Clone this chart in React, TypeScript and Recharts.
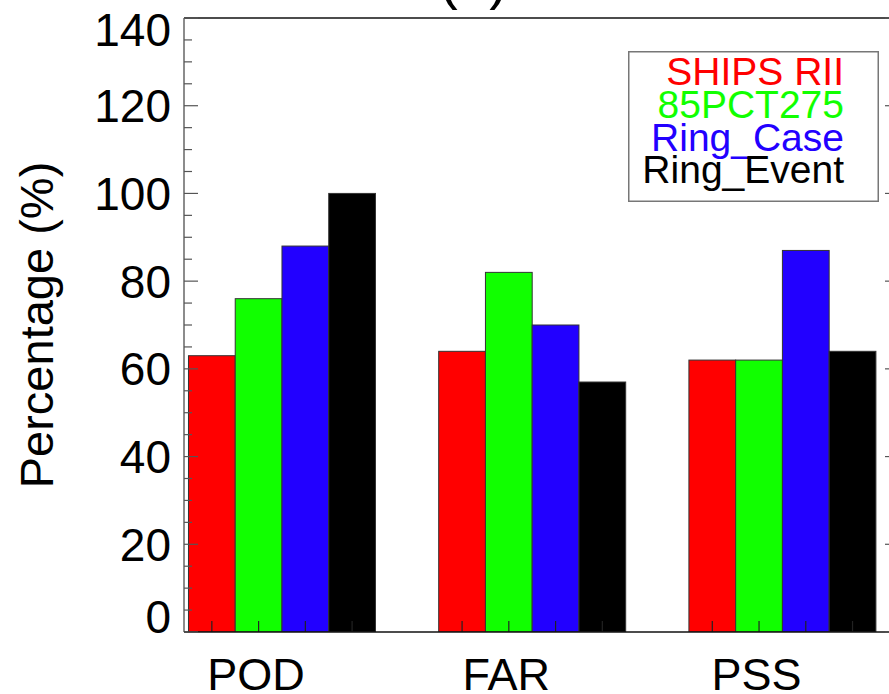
import React from 'react';
import { BarChart, Bar, XAxis, YAxis, ReferenceLine, Legend } from 'recharts';

const categories = ['POD', 'FAR', 'PSS'];
const seriesNames = ['SHIPS RII', '85PCT275', 'Ring_Case', 'Ring_Event'];
const shipsRII = [63, 64, 62];
const pct85 = [76, 82, 62];
const ringCase = [88, 70, 87];
const ringEvent = [100, 57, 64];
const yMajorTicks = [0, 20, 40, 60, 80, 100, 120, 140];
const yMinorTicks = [5, 10, 15, 25, 30, 35, 45, 50, 55, 65, 70, 75, 85, 90, 95, 105, 110, 115, 125, 130, 135];
const titleText = '(a)';
const yTitle = 'Percentage (%)';

const colors = ['#ff0000', '#11ff00', '#2200ff', '#000000'];
const FONT = '"Liberation Sans", Arial, Helvetica, sans-serif';

const seriesValues = [shipsRII, pct85, ringCase, ringEvent];
const keys = ['s0', 's1', 's2', 's3'];
const data = categories.map((c, i) => {
  const row: any = { pos: i, name: c };
  keys.forEach((k, j) => { row[k] = seriesValues[j][i]; });
  return row;
});
const allYTicks = [...yMajorTicks, ...yMinorTicks].sort((a, b) => a - b);

const LeftTick = (props: any) => {
  const { x, y, payload } = props;
  const v = payload.value;
  const major = yMajorTicks.includes(v);
  let shift = 0;
  if (v === yMajorTicks[yMajorTicks.length - 1]) shift = 11;
  if (v === yMajorTicks[0]) shift = -16;
  return (
    <g>
      <line x1={x} x2={x + (major ? 14 : 8)} y1={y} y2={y} stroke="#555" strokeWidth={1.2} />
      {major && (
        <text x={x - 13} y={y + shift} dy="0.36em" textAnchor="end" fontSize={46} fill="#000" fontFamily={FONT}>
          {v}
        </text>
      )}
    </g>
  );
};

const RightTick = (props: any) => {
  const { x, y, payload } = props;
  const v = payload.value;
  const major = yMajorTicks.includes(v);
  return <line x1={x - (major ? 14 : 8)} x2={x} y1={y} y2={y} stroke="#555" strokeWidth={1.2} />;
};

const XTick = (props: any) => {
  const { x, y, payload } = props;
  return (
    <text x={x - 25.5} y={y + 58} textAnchor="middle" fontSize={45} fill="#000" fontFamily={FONT}>
      {categories[payload.value]}
    </text>
  );
};

const BarShape = (props: any) => {
  const { x, y, width, height, fill } = props;
  const cx = x + width / 2;
  return (
    <g>
      <rect x={x} y={y} width={width} height={height} fill={fill} stroke="#333" strokeWidth={1} />
      <line x1={cx} x2={cx} y1={y + height} y2={y + height - 11} stroke="#222" strokeWidth={1.2} />
    </g>
  );
};

const YTitle = (props: any) => {
  const vb = props.viewBox || {};
  const cy = (vb.y || 0) + (vb.height || 0) / 2;
  const bx = (vb.x || 0) + 53;
  return (
    <text transform={`translate(${bx},${cy}) rotate(-90)`} x={0} y={0} textAnchor="middle" fontSize={47} fill="#000" fontFamily={FONT}>
      {yTitle}
    </text>
  );
};

const LegendBox = (props: any) => {
  const payload = [...(props.payload || [])].sort(
    (a: any, b: any) => seriesNames.indexOf(a.value) - seriesNames.indexOf(b.value)
  );
  return (
    <svg width={251} height={151} style={{ display: 'block' }}>
      <rect x={0.75} y={0.75} width={249.5} height={149.5} fill="#fff" stroke="#777" strokeWidth={1.5} />
      {payload.map((p: any, i: number) => (
        <text key={i} x={216} y={34 + i * 32.8} textAnchor="end" fontSize={39} fill={p.color} fontFamily={FONT}>
          {p.value}
        </text>
      ))}
    </svg>
  );
};

export default function App() {
  return (
    <div style={{ position: 'absolute', left: 0, top: 0, width: 889, height: 694, overflow: 'hidden', background: '#fff' }}>
      <BarChart
        width={960}
        height={694}
        data={data}
        margin={{ top: 18, right: 0, bottom: 0, left: 0 }}
        barSize={46.75}
        barGap={0}
        style={{ fontFamily: FONT }}
      >
        <YAxis
          yAxisId="left"
          width={184}
          type="number"
          domain={[0, 140]}
          ticks={allYTicks}
          interval={0}
          tickLine={false}
          tickSize={0}
          tickMargin={0}
          axisLine={{ stroke: '#666', strokeWidth: 1.5 }}
          tick={<LeftTick />}
          label={<YTitle />}
          allowDataOverflow
        />
        <YAxis
          yAxisId="right"
          orientation="right"
          width={61}
          type="number"
          domain={[0, 140]}
          ticks={allYTicks}
          interval={0}
          tickLine={false}
          tickSize={0}
          tickMargin={0}
          axisLine={{ stroke: '#666', strokeWidth: 1.5 }}
          tick={<RightTick />}
          allowDataOverflow
        />
        <XAxis
          dataKey="pos"
          type="number"
          domain={[-0.39, 2.4675]}
          allowDataOverflow
          ticks={[0, 1, 2]}
          interval={0}
          height={62}
          tickLine={false}
          tickSize={0}
          tickMargin={0}
          axisLine={{ stroke: '#111', strokeWidth: 1.5 }}
          tick={<XTick />}
        />
        <ReferenceLine yAxisId="left" y={140} stroke="#111" strokeWidth={1.5} />
        {keys.map((k, j) => (
          <Bar
            key={k}
            yAxisId="left"
            dataKey={k}
            name={seriesNames[j]}
            fill={colors[j]}
            isAnimationActive={false}
            shape={<BarShape />}
          />
        ))}
        <Legend
          layout="vertical"
          align="center"
          verticalAlign="middle"
          itemSorter={null as any}
          wrapperStyle={{ left: 628, top: 51, width: 251, height: 151 }}
          content={<LegendBox />}
        />
      </BarChart>
      <svg width={889} height={30} style={{ position: 'absolute', left: 0, top: 0, overflow: 'visible' }}>
        <text x={473.5} y={-2.4} textAnchor="middle" fontSize={57} fill="#000" fontFamily={FONT}>
          {titleText}
        </text>
      </svg>
    </div>
  );
}
